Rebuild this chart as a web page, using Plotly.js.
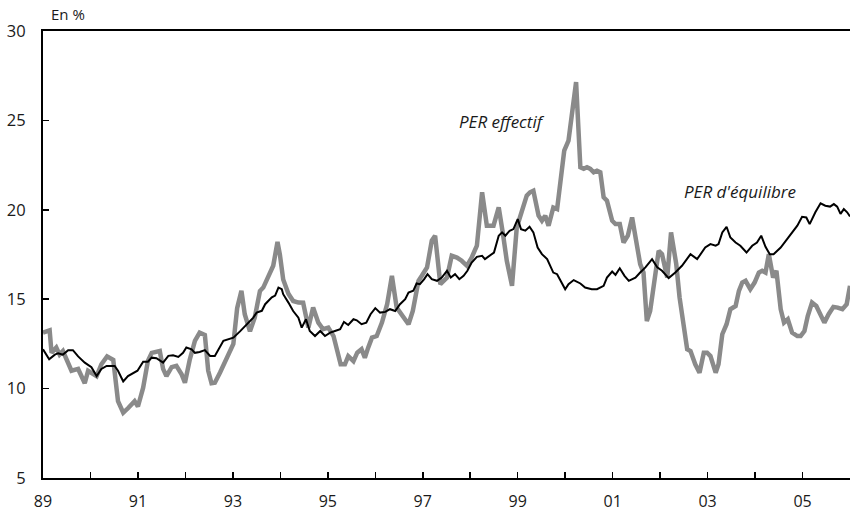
<!DOCTYPE html>
<html>
<head>
<meta charset="utf-8">
<script src="https://cdn.plot.ly/plotly-3.0.1.min.js"></script>
<style>
  html, body { margin: 0; padding: 0; background: #ffffff; }
  #chart { width: 850px; height: 516px; }
</style>
</head>
<body>
<div id="chart"></div>
<script>
// PER effectif (grey) : dates as decimal years, values in %
const effectifYears = [
  1989.00,1989.14,1989.18,1989.28,1989.35,1989.42,1989.60,1989.74,1989.88,1989.95,
  1990.13,1990.23,1990.35,1990.48,1990.58,1990.69,1990.79,1990.93,1991.00,1991.11,
  1991.21,1991.29,1991.46,1991.53,1991.60,1991.71,1991.81,1991.92,1991.99,1992.09,
  1992.20,1992.30,1992.41,1992.48,1992.55,1992.62,1992.73,1992.83,1992.94,1993.01,
  1993.09,1993.18,1993.25,1993.36,1993.46,1993.57,1993.64,1993.74,1993.85,1993.94,
  1993.99,1994.06,1994.17,1994.27,1994.38,1994.48,1994.59,1994.69,1994.80,1994.90,
  1995.01,1995.12,1995.19,1995.27,1995.36,1995.43,1995.54,1995.62,1995.71,1995.78,
  1995.85,1995.93,1996.03,1996.14,1996.25,1996.35,1996.45,1996.59,1996.70,1996.79,
  1996.91,1996.98,1997.09,1997.19,1997.26,1997.37,1997.51,1997.61,1997.72,1997.82,
  1997.93,1998.03,1998.14,1998.25,1998.35,1998.49,1998.60,1998.69,1998.77,1998.88,
  1998.98,1999.19,1999.26,1999.33,1999.44,1999.51,1999.58,1999.65,1999.75,1999.83,
  1999.90,1999.98,2000.07,2000.16,2000.23,2000.32,2000.39,2000.46,2000.53,2000.60,
  2000.67,2000.74,2000.81,2000.88,2000.99,2001.06,2001.15,2001.23,2001.32,2001.41,
  2001.50,2001.58,2001.65,2001.72,2001.79,2001.88,2001.97,2002.04,2002.15,2002.23,
  2002.34,2002.41,2002.50,2002.57,2002.64,2002.74,2002.83,2002.92,2002.99,2003.06,
  2003.17,2003.23,2003.31,2003.40,2003.48,2003.59,2003.66,2003.73,2003.80,2003.90,
  2003.99,2004.08,2004.15,2004.22,2004.29,2004.38,2004.45,2004.54,2004.61,2004.69,
  2004.78,2004.89,2004.96,2005.04,2005.11,2005.20,2005.29,2005.38,2005.46,2005.55,
  2005.65,2005.74,2005.84,2005.93,2006.00
];
const effectifValues = [
  13.13,13.26,12.00,12.30,11.90,12.10,11.00,11.10,10.30,11.00,
  10.70,11.36,11.80,11.60,9.30,8.65,8.90,9.30,9.00,10.05,
  11.55,12.00,12.10,11.10,10.70,11.20,11.27,10.80,10.33,11.60,
  12.67,13.13,13.00,11.00,10.30,10.33,10.90,11.45,12.00,12.50,
  14.50,15.47,14.16,13.20,13.97,15.46,15.65,16.30,16.87,18.20,
  17.50,16.10,15.30,14.90,14.81,14.80,13.41,14.53,13.69,13.32,
  13.41,12.94,12.29,11.36,11.36,11.82,11.54,12.01,12.20,11.73,
  12.29,12.85,12.94,13.69,14.72,16.31,14.53,13.97,13.60,14.34,
  16.03,16.31,16.78,18.27,18.55,15.84,16.21,17.43,17.33,17.15,
  16.87,17.33,17.99,20.98,19.11,19.11,20.13,18.64,17.15,15.75,
  19.01,20.79,20.98,21.07,19.67,19.39,19.67,19.11,20.13,20.04,
  21.54,23.31,23.87,25.55,27.14,22.38,22.29,22.38,22.29,22.10,
  22.19,22.10,20.70,20.51,19.39,19.20,19.20,18.17,18.55,19.57,
  18.27,16.96,16.49,13.78,14.34,16.21,17.71,17.52,16.21,18.74,
  16.96,15.09,13.60,12.20,12.10,11.36,10.89,12.01,12.01,11.82,
  10.89,11.36,13.04,13.60,14.44,14.62,15.47,15.93,16.03,15.56,
  15.93,16.49,16.59,16.49,17.52,16.21,16.59,14.44,13.69,13.88,
  13.13,12.94,12.94,13.22,14.06,14.81,14.62,14.16,13.69,14.16,
  14.57,14.53,14.44,14.72,15.75
];

// PER d'équilibre (black)
const equilibreYears = [
  1989.00,1989.13,1989.25,1989.32,1989.42,1989.53,1989.63,1989.74,1989.88,1990.02,
  1990.13,1990.23,1990.34,1990.51,1990.58,1990.69,1990.79,1990.90,1990.99,1991.11,
  1991.21,1991.29,1991.39,1991.53,1991.64,1991.74,1991.85,1991.95,1992.02,1992.13,
  1992.20,1992.30,1992.41,1992.52,1992.62,1992.80,1992.94,1993.01,1993.15,1993.32,
  1993.43,1993.50,1993.61,1993.68,1993.74,1993.82,1993.89,1993.96,1994.03,1994.06,
  1994.17,1994.27,1994.38,1994.45,1994.54,1994.62,1994.73,1994.84,1994.94,1995.05,
  1995.15,1995.26,1995.34,1995.43,1995.54,1995.61,1995.71,1995.81,1995.90,1996.00,
  1996.10,1996.21,1996.31,1996.42,1996.52,1996.63,1996.70,1996.80,1996.87,1996.94,
  1997.03,1997.10,1997.19,1997.30,1997.40,1997.51,1997.59,1997.68,1997.77,1997.86,
  1997.94,1998.03,1998.14,1998.25,1998.31,1998.42,1998.50,1998.60,1998.67,1998.74,
  1998.83,1998.91,1999.00,1999.07,1999.16,1999.25,1999.33,1999.42,1999.51,1999.62,
  1999.75,1999.83,1999.90,2000.00,2000.07,2000.18,2000.32,2000.42,2000.56,2000.67,
  2000.81,2000.88,2000.99,2001.06,2001.15,2001.25,2001.34,2001.48,2001.58,2001.69,
  2001.83,2001.94,2002.04,2002.18,2002.32,2002.46,2002.64,2002.78,2002.95,2003.06,
  2003.17,2003.23,2003.31,2003.40,2003.48,2003.59,2003.69,2003.82,2003.94,2004.04,
  2004.13,2004.22,2004.31,2004.39,2004.54,2004.68,2004.78,2004.89,2004.99,2005.08,
  2005.15,2005.27,2005.38,2005.48,2005.58,2005.66,2005.73,2005.80,2005.87,2005.94,
  2006.00
];
const equilibreValues = [
  12.20,11.64,11.90,11.98,11.90,12.15,12.15,11.80,11.45,11.20,
  10.70,11.10,11.27,11.27,11.00,10.40,10.70,10.86,11.00,11.50,
  11.50,11.73,11.70,11.45,11.83,11.86,11.77,12.00,12.30,12.20,
  12.00,12.05,12.15,11.83,11.83,12.67,12.80,12.85,13.20,13.70,
  13.97,14.25,14.35,14.72,14.90,15.10,15.20,15.65,15.56,15.28,
  14.81,14.34,13.97,13.41,13.88,13.22,12.94,13.22,12.94,13.13,
  13.22,13.32,13.73,13.56,13.88,13.82,13.60,13.69,14.16,14.50,
  14.25,14.29,14.44,14.34,14.72,15.00,15.37,15.47,15.88,15.84,
  16.12,16.40,16.12,16.03,16.21,16.59,16.21,16.40,16.12,16.31,
  16.59,17.05,17.37,17.43,17.24,17.43,17.61,18.55,18.74,18.55,
  18.83,18.92,19.48,18.92,18.83,19.05,18.74,17.89,17.52,17.24,
  16.49,16.40,16.03,15.56,15.84,16.07,15.88,15.65,15.56,15.56,
  15.75,16.21,16.55,16.36,16.73,16.31,16.03,16.21,16.49,16.78,
  17.24,16.78,16.59,16.18,16.49,16.87,17.52,17.24,17.89,18.08,
  17.99,18.08,18.73,19.05,18.45,18.17,17.99,17.61,17.99,18.17,
  18.55,17.93,17.52,17.52,17.89,18.36,18.68,19.11,19.61,19.57,
  19.20,19.86,20.36,20.23,20.18,20.32,20.18,19.77,20.04,19.86,
  19.63
];

// Axis ticks
const yearTicks = [1989,1990,1991,1992,1993,1994,1995,1996,1997,1998,1999,2000,2001,2002,2003,2004,2005];
const yearLabels = ['89','','91','','93','','95','','97','','99','','01','','03','','05'];
const yTicks = [5,10,15,20,25,30];

const fontFamily = '"Open Sans", "Noto Sans", Lato, sans-serif';
const textColor = '#1a1a1a';

const traces = [
  {
    x: effectifYears, y: effectifValues,
    type: 'scatter', mode: 'lines', name: 'PER effectif',
    line: { color: '#8a8a8a', width: 4.5 },
    hoverinfo: 'skip'
  },
  {
    x: equilibreYears, y: equilibreValues,
    type: 'scatter', mode: 'lines', name: "PER d'équilibre",
    line: { color: '#000000', width: 2 },
    hoverinfo: 'skip'
  }
];

const layout = {
  width: 850, height: 516,
  margin: { l: 43, r: 0, t: 31, b: 38 },
  paper_bgcolor: '#ffffff', plot_bgcolor: '#ffffff',
  showlegend: false,
  font: { family: fontFamily, size: 16, color: textColor },
  xaxis: {
    range: [1989, 2006],
    tickmode: 'array', tickvals: yearTicks, ticktext: yearLabels,
    ticks: 'inside', ticklen: 6, tickwidth: 1.5, tickcolor: '#000',
    showline: true, linewidth: 2, linecolor: '#000', mirror: true,
    showgrid: false, zeroline: false,
    ticklabelstandoff: 8,
    tickfont: { family: fontFamily, size: 16, color: textColor }
  },
  yaxis: {
    range: [5, 30],
    tickmode: 'array', tickvals: yTicks,
    ticks: 'inside', ticklen: 6, tickwidth: 1.5, tickcolor: '#000',
    showline: true, linewidth: 2, linecolor: '#000',
    showgrid: false, zeroline: false,
    ticklabelstandoff: 12,
    tickfont: { family: fontFamily, size: 16.5, color: textColor }
  },
  annotations: [
    { xref: 'paper', yref: 'paper', x: 0.007, y: 1.0, yshift: 17, xanchor: 'left', yanchor: 'middle',
      text: 'En %', showarrow: false, font: { family: fontFamily, size: 15, color: textColor } },
    { xref: 'x', yref: 'y', x: 1998.67, y: 24.94, xanchor: 'center', yanchor: 'middle',
      text: '<i>PER effectif</i>', showarrow: false, font: { family: fontFamily, size: 17, color: textColor } },
    { xref: 'x', yref: 'y', x: 2003.69, y: 21.01, xanchor: 'center', yanchor: 'middle',
      text: "<i>PER d'équilibre</i>", showarrow: false, font: { family: fontFamily, size: 17, color: textColor } }
  ]
};

Plotly.newPlot('chart', traces, layout, { staticPlot: true, displayModeBar: false });
</script>
</body>
</html>
